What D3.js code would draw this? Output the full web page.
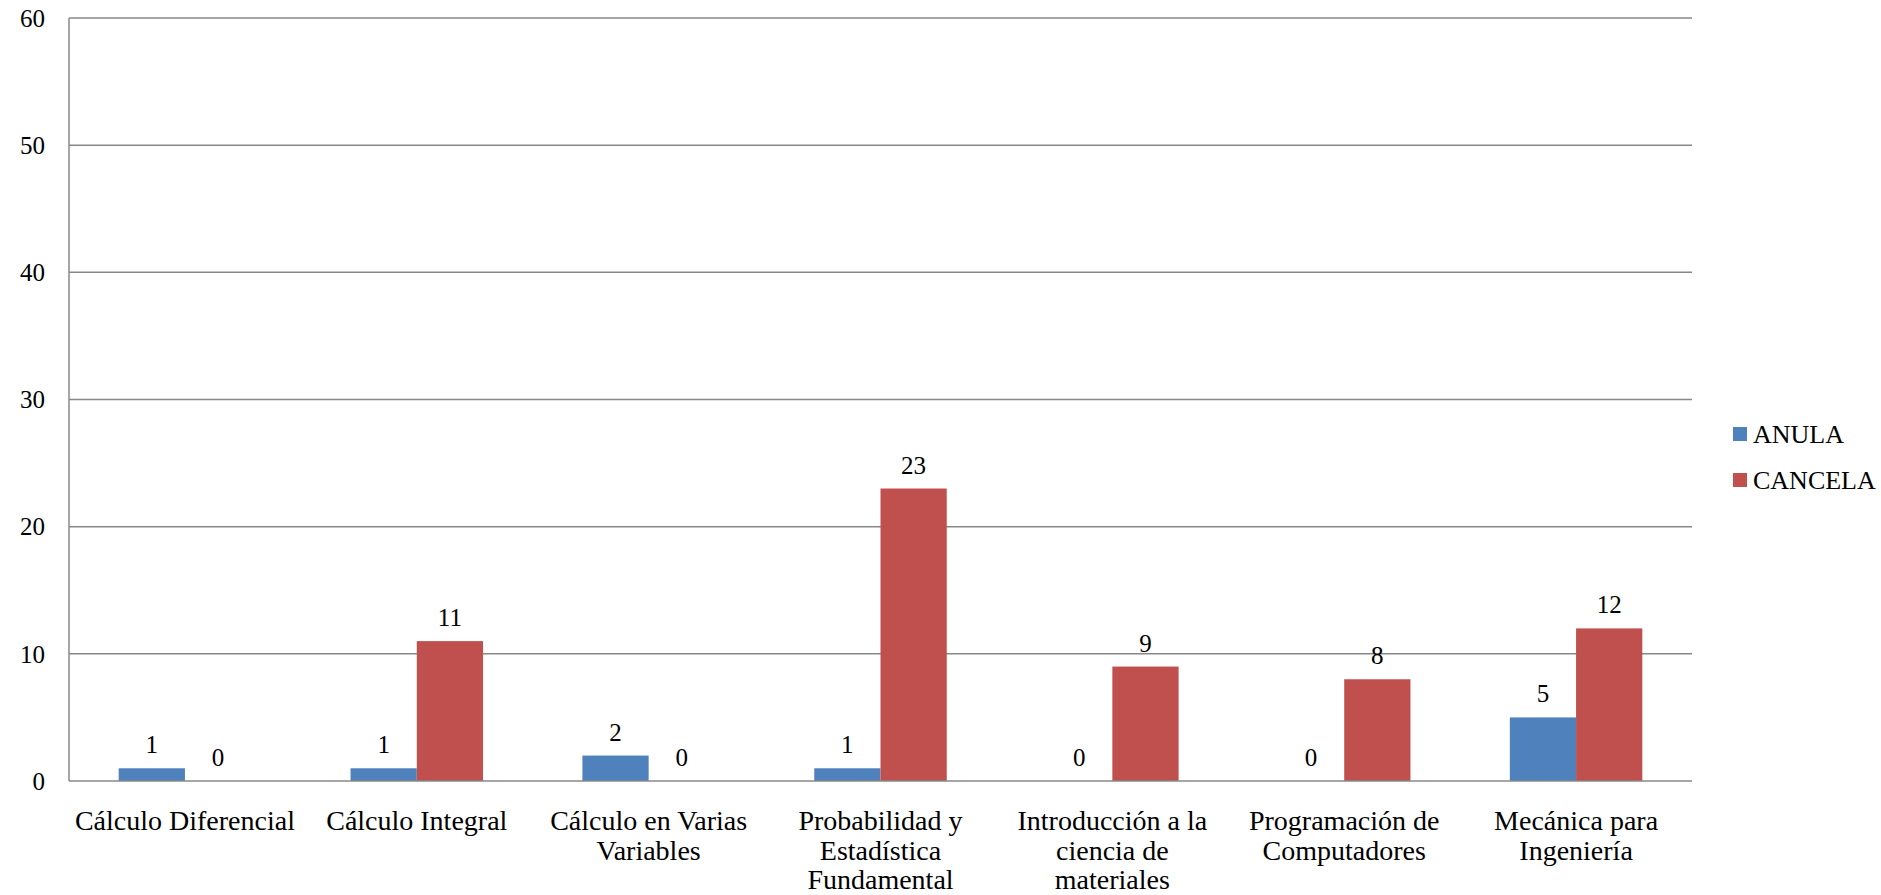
<!DOCTYPE html>
<html>
<head>
<meta charset="utf-8">
<script src="https://cdn.jsdelivr.net/npm/d3@7"></script>
<style>
  body { margin: 0; background: #fff; }
</style>
</head>
<body>
<div id="chart"></div>
<script>
// data
const categories = ["Cálculo Diferencial", "Cálculo Integral", "Cálculo en Varias Variables",
  "Probabilidad y Estadística Fundamental", "Introducción a la ciencia de materiales",
  "Programación de Computadores", "Mecánica para Ingeniería"];
const tickLabels = [
  ["Cálculo Diferencial"], ["Cálculo Integral"], ["Cálculo en Varias", "Variables"],
  ["Probabilidad y", "Estadística", "Fundamental"], ["Introducción a la", "ciencia de", "materiales"],
  ["Programación de", "Computadores"], ["Mecánica para", "Ingeniería"]
];
const seriesNames = ["ANULA", "CANCELA"];
const anula = [1, 1, 2, 1, 0, 0, 5];
const cancela = [0, 11, 0, 23, 9, 8, 12];
const yTicks = [0, 10, 20, 30, 40, 50, 60];
const colors = ["#4F81BD", "#C0504D"];

const width = 1881, height = 895;
const margin = {top: 18, right: 189, bottom: 114, left: 69};
const serif = "'Liberation Serif', 'DejaVu Serif', serif";

const svg = d3.select("#chart").append("svg")
    .attr("width", width)
    .attr("height", height)
    .attr("font-family", serif);

const x0 = d3.scaleBand()
    .domain(categories)
    .range([margin.left, width - margin.right])
    .padding(0);

const x1 = d3.scaleBand()
    .domain(seriesNames)
    .range([0, x0.bandwidth()])
    .paddingInner(0)
    .paddingOuter(0.75);

const y = d3.scaleLinear()
    .domain([0, 60])
    .range([height - margin.bottom, margin.top]);

// gridlines
svg.append("g")
    .selectAll("line")
    .data(yTicks.slice(1))
    .enter().append("line")
    .attr("x1", margin.left)
    .attr("x2", width - margin.right)
    .attr("y1", d => y(d))
    .attr("y2", d => y(d))
    .attr("stroke", "#888")
    .attr("stroke-width", 1.5);

// y tick labels
svg.append("g")
    .selectAll("text")
    .data(yTicks)
    .enter().append("text")
    .attr("x", 45)
    .attr("y", d => y(d))
    .attr("dy", "0.35em")
    .attr("text-anchor", "end")
    .attr("font-family", serif)
    .attr("font-size", 25)
    .text(d => d);

const rows = categories.map((c, i) => ({cat: c, values: [anula[i], cancela[i]]}));

const groups = svg.append("g")
    .selectAll("g")
    .data(rows)
    .enter().append("g")
    .attr("transform", d => "translate(" + x0(d.cat) + ",0)");

groups.selectAll("rect")
    .data(d => d.values.map((v, j) => ({key: seriesNames[j], value: v, j: j})))
    .enter().append("rect")
    .attr("x", d => x1(d.key))
    .attr("y", d => y(d.value))
    .attr("width", x1.bandwidth())
    .attr("height", d => y(0) - y(d.value))
    .attr("fill", d => colors[d.j]);

// value labels
groups.selectAll("text.val")
    .data(d => d.values.map((v, j) => ({key: seriesNames[j], value: v})))
    .enter().append("text")
    .attr("class", "val")
    .attr("x", d => x1(d.key) + x1.bandwidth() / 2)
    .attr("y", d => y(d.value) - 15)
    .attr("text-anchor", "middle")
    .attr("font-family", serif)
    .attr("font-size", 25)
    .text(d => d.value);

// axes lines
svg.append("line")
    .attr("x1", margin.left).attr("x2", margin.left)
    .attr("y1", y(60)).attr("y2", y(0))
    .attr("stroke", "#888").attr("stroke-width", 1.5);
svg.append("line")
    .attr("x1", margin.left).attr("x2", width - margin.right)
    .attr("y1", y(0)).attr("y2", y(0))
    .attr("stroke", "#888").attr("stroke-width", 1.5);

// category labels
const xl = svg.append("g")
    .selectAll("text")
    .data(categories)
    .enter().append("text")
    .attr("text-anchor", "middle")
    .attr("x", d => x0(d) + x0.bandwidth() / 2)
    .attr("y", 830)
    .attr("font-family", serif)
    .attr("font-size", 28);

xl.each(function(d, i) {
    d3.select(this).selectAll("tspan")
        .data(tickLabels[i])
        .enter().append("tspan")
        .attr("x", x0(d) + x0.bandwidth() / 2)
        .attr("dy", (t, k) => k === 0 ? 0 : 29.5)
        .text(t => t);
});

// legend
const legend = svg.append("g")
    .selectAll("g")
    .data(seriesNames)
    .enter().append("g")
    .attr("transform", (d, i) => "translate(1733," + (427 + i * 46) + ")");

legend.append("rect")
    .attr("width", 14)
    .attr("height", 14)
    .attr("fill", (d, i) => colors[i]);

legend.append("text")
    .attr("x", 20)
    .attr("y", 16)
    .attr("font-family", serif)
    .attr("font-size", 26)
    .text(d => d);
</script>
</body>
</html>
